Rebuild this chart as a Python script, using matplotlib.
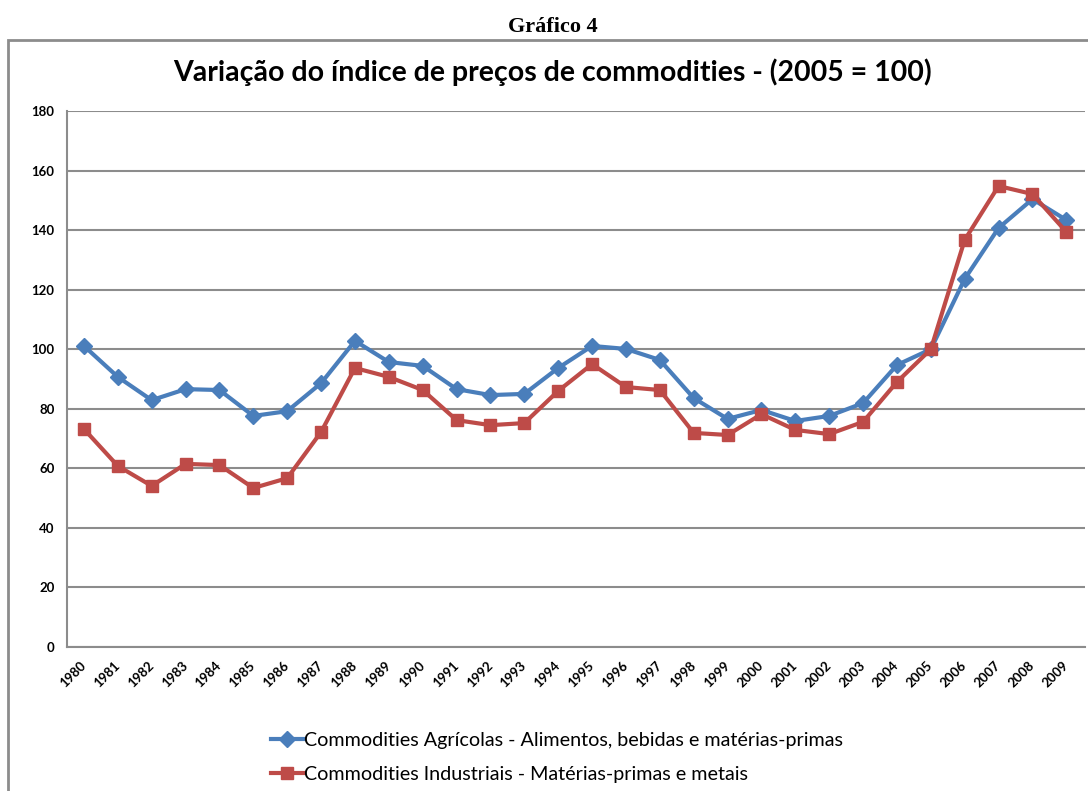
import matplotlib.pyplot as plt
from matplotlib.patches import Rectangle

years = list(range(1980, 2010))
agricolas = [101.1, 90.7, 82.9, 86.6, 86.3, 77.6, 79.2, 88.6, 102.8, 95.7,
             94.4, 86.6, 84.6, 85.0, 93.7, 101.1, 100.1, 96.4, 83.6, 76.6,
             79.6, 75.9, 77.6, 81.9, 94.7, 100.0, 123.6, 140.7, 150.4, 143.4]
industriais = [73.2, 60.8, 54.1, 61.5, 61.1, 53.4, 56.7, 72.2, 93.7, 90.7,
               86.3, 76.2, 74.5, 75.2, 86.0, 95.0, 87.3, 86.3, 71.9, 71.2,
               78.2, 72.9, 71.5, 75.6, 89.0, 100.0, 136.7, 154.8, 152.1, 139.4]
label_agri = 'Commodities Agrícolas - Alimentos, bebidas e matérias-primas'
label_ind = 'Commodities Industriais - Matérias-primas e metais'

plt.rcParams['font.family'] = ['Lato', 'DejaVu Sans']

fig = plt.figure(figsize=(10.88, 7.91), dpi=100)
ax = fig.add_axes([0.0616, 0.182, 0.9356, 0.6777])

# outer chart frame
fig.patches.append(Rectangle((8 / 1088, -0.1), 1.2, 1 - 40 / 791 + 0.1,
                             transform=fig.transFigure, fill=False,
                             edgecolor='#8c8c8c', linewidth=2))

fig.text(0.508, 1 - 27 / 791, 'Gráfico 4', ha='center', va='center',
         fontsize=16, fontweight='bold', family='Liberation Serif')
fig.text(0.508, 1 - 72 / 791, 'Variação do índice de preços de commodities - (2005 = 100)',
         ha='center', va='center', fontsize=20.5, fontweight='bold')

ax.plot(years, agricolas, color='#4a7ebb', linewidth=3, marker='D',
        markersize=8, label=label_agri)
ax.plot(years, industriais, color='#be4b48', linewidth=3, marker='s',
        markersize=9, label=label_ind)

ax.set_xlim(1979.5, 2009.55)
ax.set_ylim(0, 180)
ax.set_yticks(range(0, 181, 20))
ax.set_xticks(years)
ax.set_xticklabels([str(y) for y in years], rotation=45, ha='right',
                   va='center', rotation_mode='anchor', fontsize=9.5,
                   fontweight='bold')
for lab in ax.get_yticklabels():
    lab.set_fontweight('bold')
    lab.set_fontsize(9.5)
ax.tick_params(axis='both', length=0, pad=9)
ax.tick_params(axis='x', pad=12)

ax.grid(axis='y', color='#8c8c8c', linewidth=1.5)
ax.set_axisbelow(True)
for side in ['top', 'right']:
    ax.spines[side].set_visible(False)
ax.spines['left'].set_color('#8c8c8c')
ax.spines['left'].set_linewidth(1.5)
ax.spines['bottom'].set_color('#8c8c8c')
ax.spines['bottom'].set_linewidth(1.5)

ax.legend(loc='upper left', bbox_to_anchor=(0.193, -0.143), frameon=False,
          fontsize=14.2, handlelength=1.6, handletextpad=0.05, labelspacing=0.9,
          borderaxespad=0)

fig.savefig('out.png', dpi=100)
